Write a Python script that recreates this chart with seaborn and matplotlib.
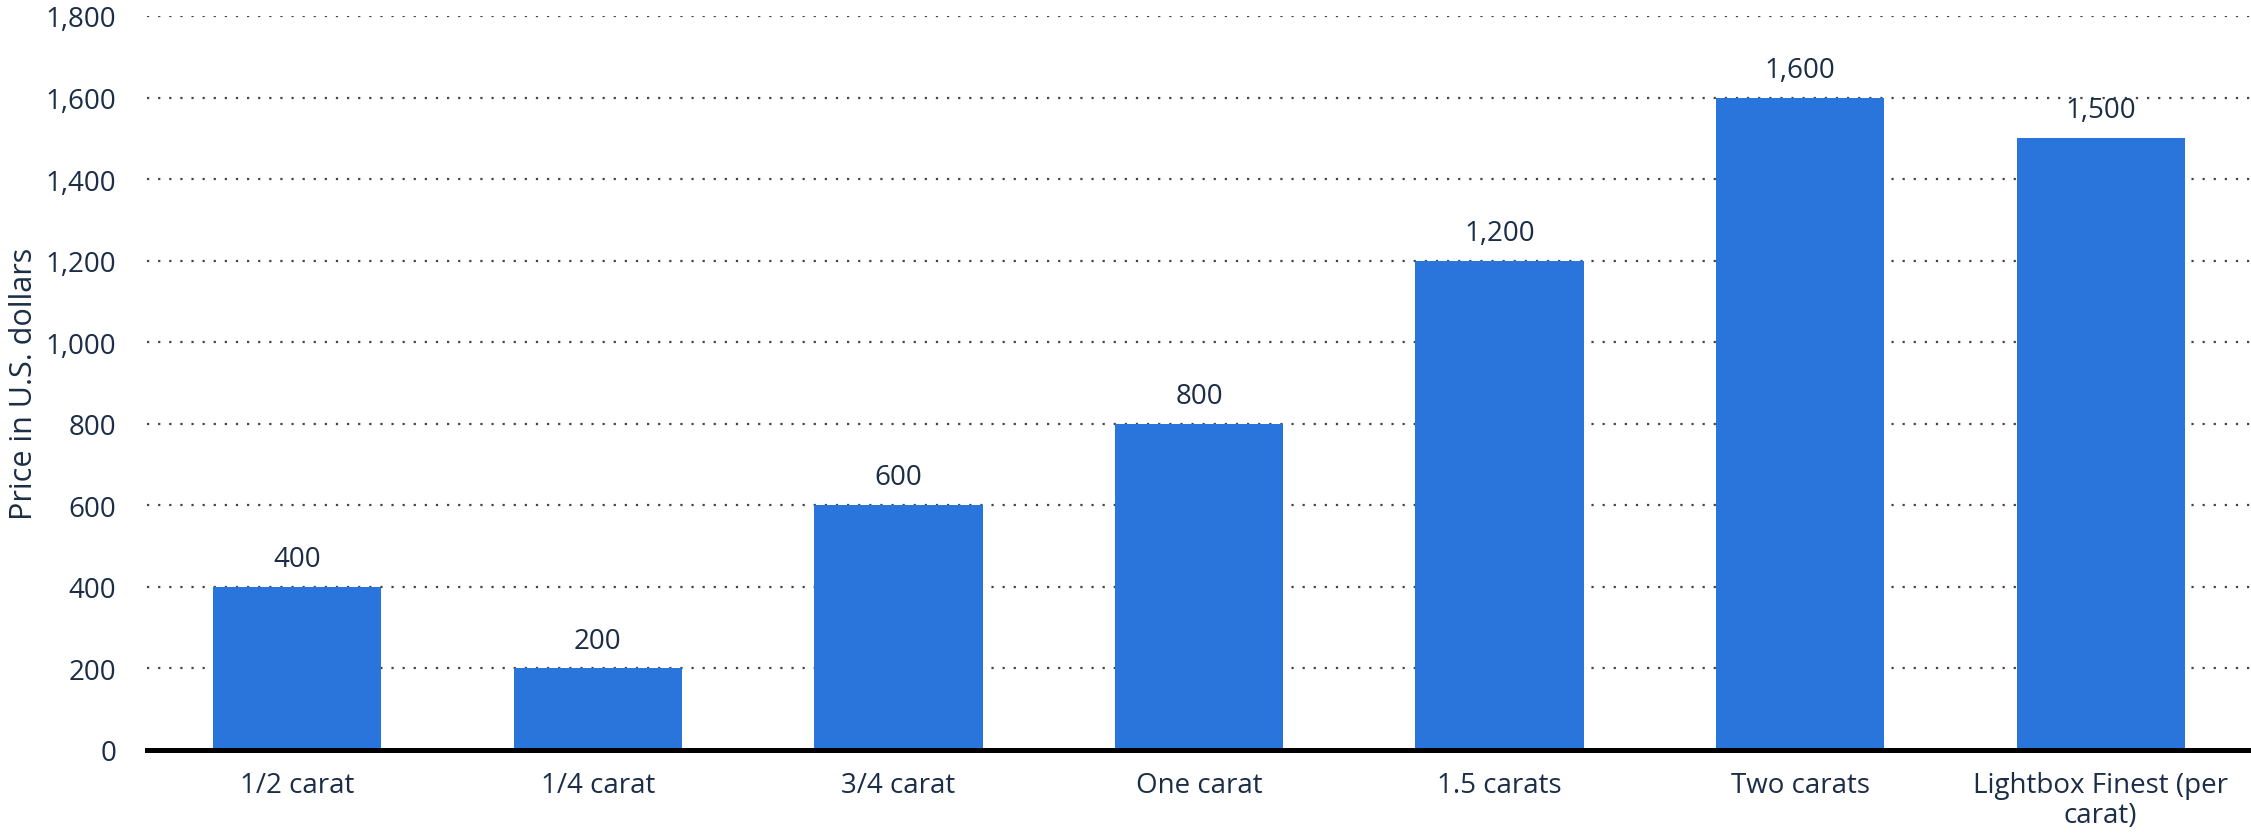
import matplotlib
matplotlib.use("Agg")
import matplotlib.pyplot as plt
import seaborn as sns
import pandas as pd

categories = ["1/2 carat", "1/4 carat", "3/4 carat", "One carat", "1.5 carats",
              "Two carats", "Lightbox Finest (per\ncarat)"]
prices = [400, 200, 600, 800, 1200, 1600, 1500]
y_ticks = [0, 200, 400, 600, 800, 1000, 1200, 1400, 1600, 1800]

BAR = "#2975DB"
TEXT = "#1B2D47"

sns.set_theme(style="white")
plt.rcParams["font.family"] = ["Open Sans", "DejaVu Sans"]

df = pd.DataFrame({"category": categories, "price": prices})

fig = plt.figure(figsize=(22.51, 8.37), dpi=100)
ax = fig.add_axes([147 / 2251, 1 - 751 / 837, 1 - 147 / 2251, (751 - 17) / 837])

sns.barplot(data=df, x="category", y="price", color=BAR, width=0.56,
            saturation=1, linewidth=0, ax=ax, zorder=3)

ax.set_ylim(0, 1800)
ax.set_xlim(-0.5, 6.5)
ax.set_yticks(y_ticks)
ax.set_yticklabels([f"{v:,}" for v in y_ticks])

ax.grid(axis="y", color="#444444", linestyle=(0, (1, 4)), linewidth=1.6, zorder=0)
ax.grid(axis="x", visible=False)
for s in ["top", "right", "left"]:
    ax.spines[s].set_visible(False)
ax.spines["bottom"].set_color("black")
ax.spines["bottom"].set_linewidth(3.6)
ax.spines["bottom"].set_zorder(5)

ax.tick_params(axis="y", length=0, pad=22, labelsize=20, labelcolor=TEXT)
ax.tick_params(axis="x", length=0, pad=15, labelsize=20, labelcolor=TEXT)
for lbl in ax.get_xticklabels():
    lbl.set_horizontalalignment("center")
    lbl.set_linespacing(1.1)

ax.set_xlabel("")
ax.set_ylabel("Price in U.S. dollars", fontsize=22, color=TEXT)
ax.yaxis.set_label_coords(-0.0515, 0.5)

for cont in ax.containers:
    ax.bar_label(cont, labels=[f"{v:,}" for v in prices], padding=10,
                 fontsize=20, color=TEXT)

fig.savefig("out.png", dpi=100)
